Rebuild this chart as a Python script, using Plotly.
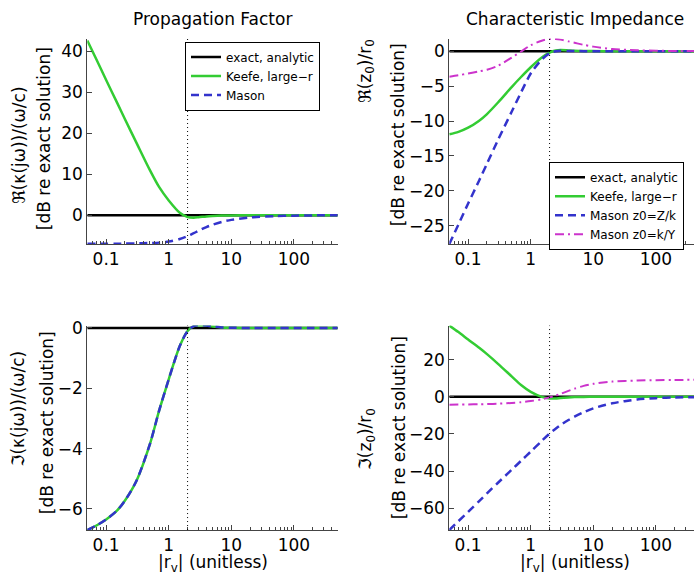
import math

import plotly.graph_objects as go

# |r_v| sample points (unitless), shared by every curve
R_V = [0.05, 0.07, 0.1, 0.15, 0.2, 0.3, 0.5, 0.7, 1, 1.5, 2, 2.5, 3, 4, 5, 7, 10, 20, 50, 100, 200, 500]

# Propagation factor, real part [dB re exact]
RE_KAPPA_EXACT = [0.0] * len(R_V)
RE_KAPPA_KEEFE = [42.6, 38.0, 33.0, 27.4, 23.4, 17.9, 11.0, 6.9, 3.6, 0.6, -0.45, -0.6, -0.5, -0.3,
                  -0.2, -0.1, -0.05, 0.0, 0.0, 0.0, 0.0, 0.0]
RE_KAPPA_MASON = [-6.97, -6.97, -6.96, -6.95, -6.94, -6.9, -6.8, -6.7, -6.45, -5.8, -5.1, -4.4, -3.8,
                  -2.9, -2.35, -1.65, -1.15, -0.55, -0.22, -0.11, -0.05, -0.02]

# Propagation factor, imaginary part
IM_KAPPA_EXACT = [0.0] * len(R_V)
IM_KAPPA_KEEFE = [-6.7, -6.55, -6.35, -6.05, -5.72, -5.1, -3.85, -2.75, -1.7, -0.6, -0.1, 0.06, 0.09,
                  0.08, 0.05, 0.02, 0.01, 0.0, 0.0, 0.0, 0.0, 0.0]
IM_KAPPA_MASON = list(IM_KAPPA_KEEFE)

# Characteristic impedance, real part
RE_Z0_EXACT = [0.0] * len(R_V)
RE_Z0_KEEFE = [-11.9, -11.55, -10.95, -9.95, -9.0, -7.35, -5.1, -3.7, -2.3, -0.9, -0.2, 0.1, 0.15, 0.1,
               0.06, 0.03, 0.01, 0.0, 0.0, 0.0, 0.0, 0.0]
RE_Z0_MASON_ZK = [-27.6, -24.8, -21.8, -18.5, -16.1, -12.7, -8.6, -5.9, -3.2, -1.2, -0.3, 0.0, 0.05,
                  0.03, 0.02, 0.0, 0.0, 0.0, 0.0, 0.0, 0.0, 0.0]
RE_Z0_MASON_KY = [-3.65, -3.45, -3.2, -2.9, -2.65, -2.1, -0.9, -0.05, 0.85, 1.5, 1.75, 1.75, 1.65,
                  1.4, 1.2, 0.9, 0.65, 0.3, 0.12, 0.06, 0.03, 0.01]

# Characteristic impedance, imaginary part
IM_Z0_EXACT = [0.0] * len(R_V)
IM_Z0_KEEFE = [38.4, 34.9, 30.9, 26.4, 23.0, 17.8, 10.9, 6.4, 2.7, 0.0, -0.9, -0.9, -0.6, -0.3,
               -0.15, -0.05, 0.0, 0.0, 0.0, 0.0, 0.0, 0.0]
IM_Z0_MASON_ZK = [-71.8, -67.0, -62.0, -56.2, -52.0, -46.3, -39.2, -34.5, -29.5, -23.8, -19.8, -17.2,
                  -15.2, -12.5, -10.7, -8.3, -6.2, -3.5, -1.4, -0.7, -0.35, -0.15]
IM_Z0_MASON_KY = [-4.2, -4.15, -4.1, -4.0, -3.9, -3.7, -3.3, -2.9, -2.3, -1.3, -0.3, 0.7, 1.6, 3.2,
                  4.4, 5.9, 7.0, 8.2, 8.8, 9.0, 9.1, 9.2]

R_DIVIDE = 2  # dotted reference line
X_TICKS = [0.1, 1, 10, 100]
X_TICK_TEXT = ["0.1", "1", "10", "100"]

FONT = "DejaVu Sans, Liberation Sans, Arial, sans-serif"
BLACK = "#000000"
GREEN = "#33cc33"
BLUE = "#3333cc"
MAGENTA = "#cc33cc"

W, H = 694, 584


def px_x(p):
    return p / W


def px_y(p):
    return 1 - p / H


fig = go.Figure()


def add(y, name, color, dash, ax, legend=None, width=2.5):
    xa, ya = ("x", "y") if ax == 1 else (f"x{ax}", f"y{ax}")
    fig.add_trace(go.Scatter(
        x=R_V, y=y, name=name, mode="lines", xaxis=xa, yaxis=ya,
        line=dict(color=color, width=width, dash=dash, shape="spline", smoothing=0.8),
        showlegend=legend is not None, legend=legend or "legend",
    ))


DASH = "8px,5px"
DASHDOT = "9px,4px,2px,4px"

add(RE_KAPPA_EXACT, "exact, analytic", BLACK, "solid", 1, "legend")
add(RE_KAPPA_KEEFE, "Keefe, large\u2212r", GREEN, "solid", 1, "legend")
add(RE_KAPPA_MASON, "Mason", BLUE, DASH, 1, "legend")

add(RE_Z0_EXACT, "exact, analytic", BLACK, "solid", 2, "legend2")
add(RE_Z0_KEEFE, "Keefe, large\u2212r", GREEN, "solid", 2, "legend2")
add(RE_Z0_MASON_ZK, "Mason z0=Z/k", BLUE, DASH, 2, "legend2")
add(RE_Z0_MASON_KY, "Mason z0=k/Y", MAGENTA, DASHDOT, 2, "legend2", width=2)

add(IM_KAPPA_EXACT, "exact, analytic", BLACK, "solid", 3)
add(IM_KAPPA_KEEFE, "Keefe, large\u2212r", GREEN, "solid", 3)
add(IM_KAPPA_MASON, "Mason", BLUE, DASH, 3)

add(IM_Z0_EXACT, "exact, analytic", BLACK, "solid", 4)
add(IM_Z0_KEEFE, "Keefe, large\u2212r", GREEN, "solid", 4)
add(IM_Z0_MASON_ZK, "Mason z0=Z/k", BLUE, DASH, 4)
add(IM_Z0_MASON_KY, "Mason z0=k/Y", MAGENTA, DASHDOT, 4, width=2)

# panel geometry in pixels
LEFT_X = (87.3, 337.7)
RIGHT_X = (449.3, 694.0)
TOP_Y = (31.0, 239.3)
BOT_Y = (322.0, 529.3)
PX_PER_DECADE = (LEFT_X[1] - LEFT_X[0]) / (math.log10(500) - math.log10(0.05))
x_lo = math.log10(0.05)
left_range = [x_lo, math.log10(500)]
right_range = [x_lo, x_lo + (RIGHT_X[1] - RIGHT_X[0]) / PX_PER_DECADE]

minor_vals = [m * 10 ** e for e in range(-2, 3) for m in range(2, 10)]
axis_common = dict(
    showline=True, linecolor="#444", linewidth=1, ticks="inside", ticklen=5, tickcolor="#444",
    showgrid=False, zeroline=False, tickfont=dict(size=17, color="black"),
)
xcommon = dict(axis_common, type="log", tickvals=X_TICKS, ticktext=X_TICK_TEXT,
               minor=dict(tickvals=minor_vals, ticks="inside", ticklen=3, tickcolor="#444"))

legend_style = dict(xanchor="left", yanchor="top", bgcolor="white", bordercolor="black",
                    borderwidth=1, font=dict(size=12, color="black"), tracegroupgap=0)

fig.update_layout(
    xaxis=dict(xcommon, domain=[px_x(LEFT_X[0]), px_x(LEFT_X[1])], range=left_range, anchor="y"),
    xaxis2=dict(xcommon, domain=[px_x(RIGHT_X[0]), 1.0], range=right_range, anchor="y2"),
    xaxis3=dict(xcommon, domain=[px_x(LEFT_X[0]), px_x(LEFT_X[1])], range=left_range, anchor="y3"),
    xaxis4=dict(xcommon, domain=[px_x(RIGHT_X[0]), 1.0], range=right_range, anchor="y4"),
    yaxis=dict(axis_common, domain=[px_y(TOP_Y[1]), px_y(TOP_Y[0])], range=[-7.04, 43.1],
               tickvals=[0, 10, 20, 30, 40], anchor="x"),
    yaxis2=dict(axis_common, domain=[px_y(TOP_Y[1]), px_y(TOP_Y[0])], range=[-27.6, 1.8],
                tickvals=[-25, -20, -15, -10, -5, 0], anchor="x2"),
    yaxis3=dict(axis_common, domain=[px_y(BOT_Y[1]), px_y(BOT_Y[0])], range=[-6.7, 0.08],
                tickvals=[-6, -4, -2, 0], anchor="x3"),
    yaxis4=dict(axis_common, domain=[px_y(BOT_Y[1]), px_y(BOT_Y[0])], range=[-71.8, 38.4],
                tickvals=[-60, -40, -20, 0, 20], anchor="x4"),
    legend=dict(legend_style, x=px_x(185), y=px_y(34)),
    legend2=dict(legend_style, x=px_x(549), y=px_y(156)),
    width=W, height=H, margin=dict(l=0, r=0, t=0, b=0),
    plot_bgcolor="white", paper_bgcolor="white",
    font=dict(family=FONT, color="black"),
)

for xa in ["x", "x2", "x3", "x4"]:
    fig.add_shape(type="line", xref=xa, yref=f"{'y' + xa[1:]} domain", x0=R_DIVIDE, x1=R_DIVIDE,
                  y0=0, y1=1, line=dict(color="black", width=1, dash="1px,3px"))

annots = [
    ("Propagation Factor", px_x(212.5), px_y(11), 0),
    ("Characteristic Impedance", px_x(575), px_y(11), 0),
    ("|r<sub>v</sub>| (unitless)", px_x(212.5), px_y(563), 0),
    ("|r<sub>v</sub>| (unitless)", px_x(575), px_y(563), 0),
    ("\u211c(\u03ba(j\u03c9))/(\u03c9/c)", px_x(19), px_y(139), -90),
    ("[dB re exact solution]", px_x(44), px_y(133), -90),
    ("\u2111(\u03ba(j\u03c9))/(\u03c9/c)", px_x(18), px_y(406), -90),
    ("[dB re exact solution]", px_x(47), px_y(420), -90),
    ("\u211c(z<sub>0</sub>)/r<sub>0</sub>", px_x(366), px_y(64), -90),
    ("[dB re exact solution]", px_x(398), px_y(128), -90),
    ("\u2111(z<sub>0</sub>)/r<sub>0</sub>", px_x(366), px_y(437), -90),
    ("[dB re exact solution]", px_x(399), px_y(426), -90),
]
for text, x, y, ang in annots:
    fig.add_annotation(text=text, x=x, y=y, xref="paper", yref="paper", showarrow=False,
                       textangle=ang, xanchor="center", yanchor="middle",
                       font=dict(size=17, color="black"))

fig.write_html("out.html", config={"displayModeBar": False},
               post_script="document.body.style.margin='0';")
